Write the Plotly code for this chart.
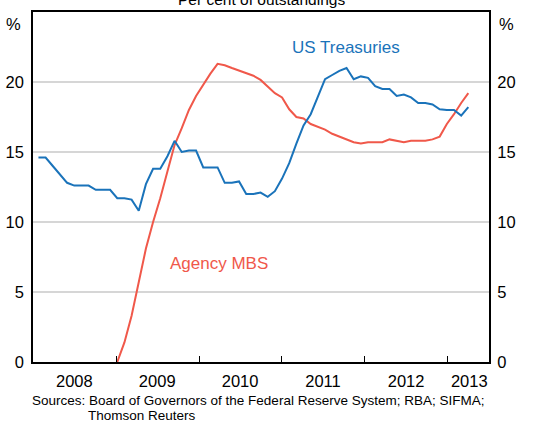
import pandas as pd
import plotly.graph_objects as go

# Observation dates (61 evenly spaced observations, late Jan 2008 to end Mar 2013)
dates = pd.date_range("2008-01-25", "2013-04-01", periods=61)

us_treasuries = [
    14.6, 14.6, 14.0, 13.4, 12.8, 12.6, 12.6, 12.6, 12.3, 12.3,
    12.3, 11.7, 11.7, 11.6, 10.8, 12.7, 13.8, 13.8, 14.7, 15.8,
    15.0, 15.1, 15.1, 13.9, 13.9, 13.9, 12.8, 12.8, 12.9, 12.0,
    12.0, 12.1, 11.8, 12.2, 13.1, 14.2, 15.6, 16.9, 17.7, 18.9,
    20.2, 20.5, 20.8, 21.0, 20.2, 20.4, 20.3, 19.7, 19.5, 19.5,
    19.0, 19.1, 18.9, 18.5, 18.5, 18.4, 18.05, 18.0, 18.0, 17.6,
    18.2,
]

agency_mbs = [None] * 11 + [
    0.0, 1.4, 3.3, 5.7, 8.1, 10.0, 11.7, 13.6, 15.5,
    16.7, 18.0, 19.0, 19.8, 20.6, 21.3, 21.2, 21.0, 20.8, 20.65,
    20.45, 20.15, 19.65, 19.2, 18.9, 18.05, 17.5, 17.4, 17.0, 16.8,
    16.6, 16.3, 16.1, 15.9, 15.7, 15.6, 15.7, 15.7, 15.7, 15.9,
    15.8, 15.7, 15.8, 15.8, 15.8, 15.9, 16.1, 17.0, 17.7, 18.5,
    19.2,
]

year_labels = ["2008", "2009", "2010", "2011", "2012", "2013"]
year_label_pos = ["2008-07-01", "2009-07-01", "2010-07-01", "2011-07-01", "2012-07-01", "2013-04-05"]
year_starts = ["2009-01-01", "2010-01-01", "2011-01-01", "2012-01-01", "2013-01-01"]
y_ticks = [0, 5, 10, 15, 20]

BLUE = "#1a73ba"
RED = "#f0584a"
FONT = "Liberation Sans, Arial, sans-serif"
X_RANGE = ["2008-01-01", "2013-07-01"]
Y_RANGE = [0, 25]

fig = go.Figure()
fig.add_trace(go.Scatter(x=dates, y=agency_mbs, mode="lines", name="Agency MBS",
                         line=dict(color=RED, width=2), connectgaps=False,
                         xaxis="x", yaxis="y"))
fig.add_trace(go.Scatter(x=dates, y=us_treasuries, mode="lines", name="US Treasuries",
                         line=dict(color=BLUE, width=2),
                         xaxis="x2", yaxis="y2"))

fig.update_layout(
    width=543, height=421,
    margin=dict(l=33, r=54, t=12, b=59, autoexpand=False),
    paper_bgcolor="white", plot_bgcolor="white",
    showlegend=False,
    font=dict(family=FONT, size=16, color="black"),
    xaxis=dict(
        type="date", range=X_RANGE, automargin=False,
        tickmode="array", tickvals=year_starts, showticklabels=False,
        ticks="inside", ticklen=6, tickcolor="black", tickwidth=1,
        showgrid=False, zeroline=False,
        showline=True, linecolor="black", linewidth=1.5, mirror=True,
    ),
    xaxis2=dict(
        type="date", range=X_RANGE, overlaying="x", anchor="y", side="bottom",
        automargin=False,
        tickmode="array", tickvals=year_label_pos, ticktext=year_labels,
        ticks="outside", ticklen=4, tickcolor="rgba(0,0,0,0)",
        showgrid=False, zeroline=False, showline=False,
        tickfont=dict(size=16.5),
    ),
    yaxis=dict(
        range=Y_RANGE, tickmode="array", tickvals=y_ticks, automargin=False,
        ticks="outside", ticklen=4, tickcolor="rgba(0,0,0,0)",
        showgrid=True, gridcolor="#d6d6d6", gridwidth=1.5,
        zeroline=False, showline=True, linecolor="black", linewidth=1.5, mirror=True,
        tickfont=dict(size=16.5),
    ),
    yaxis2=dict(
        range=Y_RANGE, tickmode="array", tickvals=y_ticks, automargin=False,
        overlaying="y", side="right", anchor="x",
        ticks="outside", ticklen=4, tickcolor="rgba(0,0,0,0)",
        showgrid=False, zeroline=False, showline=False,
        tickfont=dict(size=16.5),
    ),
)

ann = []
ann.append(dict(text="Per cent of outstandings", x=0.5, y=1, xref="paper", yref="paper",
                xanchor="center", yanchor="bottom", yshift=2, showarrow=False,
                font=dict(size=15.5)))
ann.append(dict(text="%", x=0, y=1, xref="paper", yref="paper", xanchor="right", yanchor="top",
                xshift=-10, yshift=-1, showarrow=False, font=dict(size=16.5)))
ann.append(dict(text="%", x=1, y=1, xref="paper", yref="paper", xanchor="left", yanchor="top",
                xshift=8, yshift=-1, showarrow=False, font=dict(size=16.5)))
ann.append(dict(text="US Treasuries", x="2011-10-10", y=22.45, xref="x", yref="y",
                xanchor="center", yanchor="middle", showarrow=False,
                font=dict(size=17, color=BLUE)))
ann.append(dict(text="Agency MBS", x="2010-04-01", y=7.05, xref="x", yref="y",
                xanchor="center", yanchor="middle", showarrow=False,
                font=dict(size=17, color=RED)))
ann.append(dict(text="Sources: Board of Governors of the Federal Reserve System; RBA; SIFMA;",
                x=0, y=0, xref="paper", yref="paper", xanchor="left", yanchor="middle",
                xshift=-3, yshift=-38, showarrow=False, font=dict(size=13.5)))
ann.append(dict(text="Thomson Reuters",
                x=0, y=0, xref="paper", yref="paper", xanchor="left", yanchor="middle",
                xshift=53, yshift=-53, showarrow=False, font=dict(size=13.5)))
fig.update_layout(annotations=ann)

fig.write_html("out.html", config={"displayModeBar": False},
               post_script="document.body.style.margin='0';")
